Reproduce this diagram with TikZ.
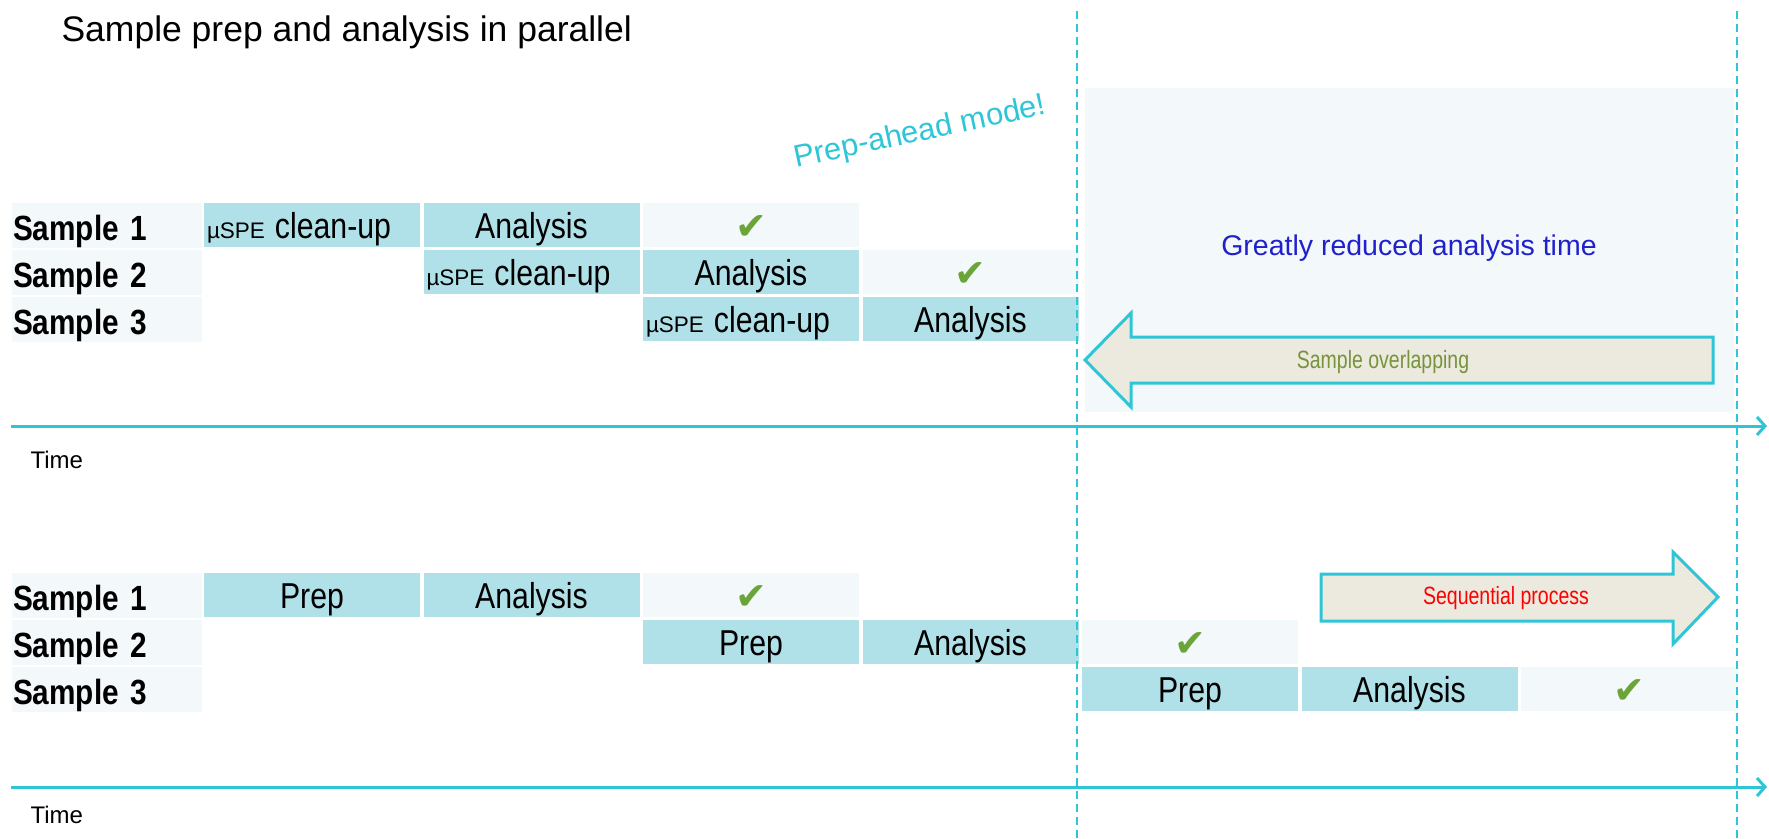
\documentclass[tikz,border=0pt]{standalone}
\usepackage{fontspec}
\setmainfont{Liberation Sans}
\newfontfamily\labelfont[FakeStretch=0.85,WordSpace=0.7]{Liberation Sans Bold}
\newfontfamily\condfont[FakeStretch=0.84]{Liberation Sans}
\newfontfamily\narrowfont[FakeStretch=0.78]{Liberation Sans}
\newfontfamily\symfont{DejaVu Sans}
\usetikzlibrary{arrows.meta}
\definecolor{cellblue}{HTML}{B0E0E8}
\definecolor{lightbg}{HTML}{F3F8FA}
\definecolor{cyanline}{HTML}{2EC6D6}
\definecolor{checkgreen}{HTML}{6BA53A}
\definecolor{arrowfill}{HTML}{ECEADF}
\definecolor{textblue}{HTML}{2020CC}
\definecolor{olivetext}{HTML}{77933C}
\newcommand{\spetext}{{\fontsize{22.5}{22.5}\selectfont\rmfamily µSPE}\hspace{-2pt} clean-up}
\begin{document}
\begin{tikzpicture}[x=1pt,y=-1pt,
  cell/.style={fill=cellblue, minimum width=216pt, minimum height=44pt, inner sep=0pt, outer sep=0pt, anchor=north west, text height=26pt, text depth=0pt, font=\condfont\fontsize{36}{36}\selectfont},
  specell/.style={cell, text width=210pt, inner xsep=3pt, align=left},
  okcell/.style={cell, fill=lightbg, text=checkgreen, text height=29pt, font=\symfont\fontsize{38}{38}\selectfont},
  labelbox/.style={fill=lightbg, minimum width=190pt, minimum height=45pt, inner sep=0pt, inner xsep=1pt, outer sep=0pt, anchor=north west, text width=188pt, align=left, text height=29pt, text depth=0pt, font=\labelfont\fontsize{35}{35}\selectfont},
  axis/.style={draw=cyanline, line width=3pt, -{Straight Barb[length=8pt,width=18pt,line width=3pt]}},
  divider/.style={draw=cyanline, line width=2.2pt, dash pattern=on 8pt off 5pt},
  blockarrow/.style={draw=cyanline, line width=3pt, fill=arrowfill, line join=miter},
  timelabel/.style={anchor=west, font=\fontsize{24}{24}\selectfont}
]
\useasboundingbox (0,0) rectangle (1769,838);

% light highlight panel
\fill[lightbg] (1085,88) rectangle (1734,412);

% title
\node[anchor=west, font=\fontsize{35.5}{35.5}\selectfont] (title) at (58,32) {Sample prep and analysis in parallel};

% ---------- top section ----------
\node[labelbox] (tl1) at (12,203) {Sample 1};
\node[labelbox] (tl2) at (12,250) {Sample 2};
\node[labelbox] (tl3) at (12,297) {Sample 3};

\node[specell] (t1a) at (204,203) {\spetext};
\node[cell] (t1b) at (423.5,203) {Analysis};
\node[okcell] (t1c) at (643,203) {✔};

\node[specell] (t2a) at (423.5,250) {\spetext};
\node[cell] (t2b) at (643,250) {Analysis};
\node[okcell] (t2c) at (862.5,250) {✔};

\node[specell] (t3a) at (643,297) {\spetext};
\node[cell] (t3b) at (862.5,297) {Analysis};

% ---------- bottom section ----------
\node[labelbox] (bl1) at (12,573) {Sample 1};
\node[labelbox] (bl2) at (12,620) {Sample 2};
\node[labelbox] (bl3) at (12,667) {Sample 3};

\node[cell] (b1a) at (204,573) {Prep};
\node[cell] (b1b) at (423.5,573) {Analysis};
\node[okcell] (b1c) at (643,573) {✔};

\node[cell] (b2a) at (643,620) {Prep};
\node[cell] (b2b) at (862.5,620) {Analysis};
\node[okcell] (b2c) at (1082,620) {✔};

\node[cell] (b3a) at (1082,667) {Prep};
\node[cell] (b3b) at (1301.5,667) {Analysis};
\node[okcell] (b3c) at (1521,667) {✔};

% ---------- dashed dividers ----------
\coordinate (d1t) at (1077,11);
\coordinate (d1b) at (1077,838);
\coordinate (d2t) at (1737,11);
\coordinate (d2b) at (1737,838);
\draw[divider] (d1t) -- (d1b);
\draw[divider] (d2t) -- (d2b);

% ---------- time axes ----------
\coordinate (a1s) at (11,426);
\coordinate (a1e) at (1767,426);
\coordinate (a2s) at (11,787);
\coordinate (a2e) at (1767,787);
\draw[axis] (a1s) -- (a1e);
\draw[axis] (a2s) -- (a2e);
\node[timelabel] (time1) at (27,460) {Time};
\node[timelabel] (time2) at (27,815) {Time};

% ---------- annotations ----------
\node[rotate=12, text=cyanline, font=\fontsize{31}{31}\selectfont] (prepahead) at (920,133) {Prep-ahead mode!};
\node[text=textblue, font=\fontsize{28.5}{28.5}\selectfont] (greatly) at (1409,248) {Greatly reduced analysis time};

% left block arrow
\draw[blockarrow] (1085,360) -- (1131,313) -- (1131,337) -- (1713,337) -- (1713,383) -- (1131,383) -- (1131,407) -- cycle;
\node[text=olivetext, font=\narrowfont\fontsize{25}{25}\selectfont] (overlap) at (1383,362) {Sample overlapping};

% right block arrow
\draw[blockarrow] (1718,597) -- (1673,552) -- (1673,574) -- (1321,574) -- (1321,621) -- (1673,621) -- (1673,644) -- cycle;
\node[text=red, font=\narrowfont\fontsize{25}{25}\selectfont] (sequential) at (1506,598) {Sequential process};
\end{tikzpicture}
\end{document}
